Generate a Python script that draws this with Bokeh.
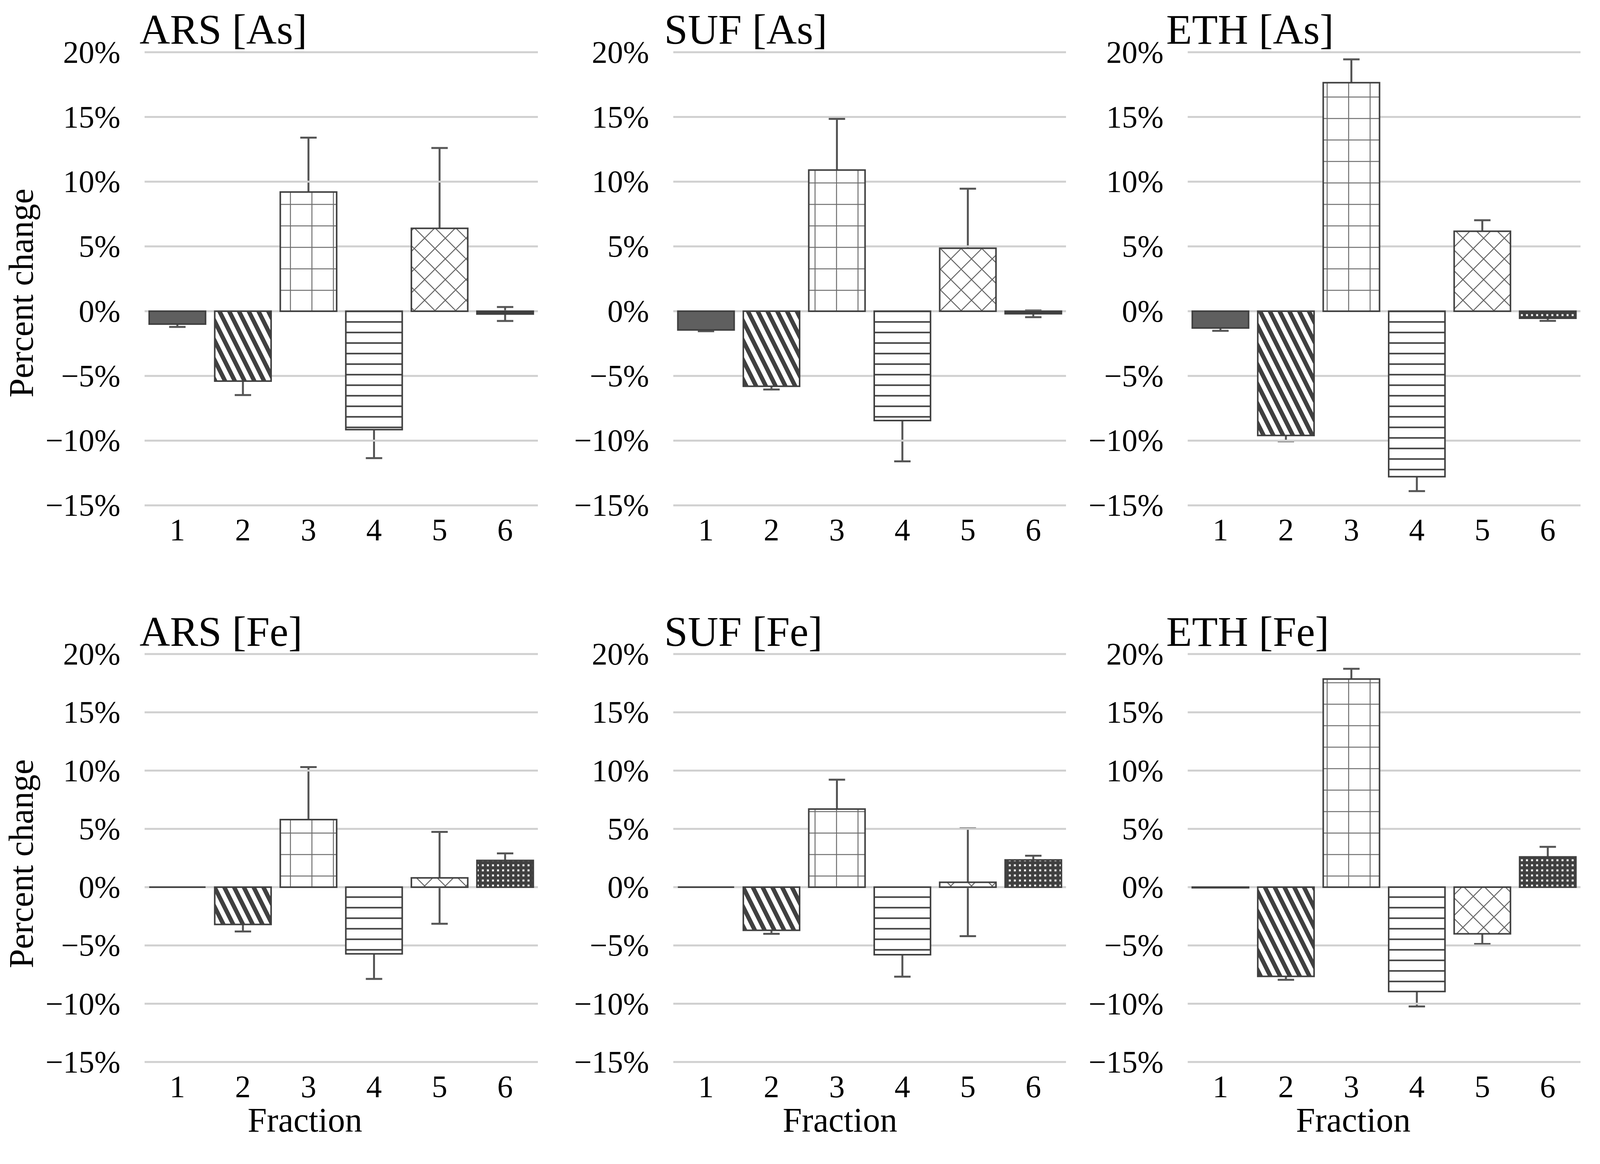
import math
from bokeh.plotting import figure
from bokeh.models import FixedTicker, Label, Whisker, TeeHead, ColumnDataSource, Range1d
from bokeh.layouts import row, column
from bokeh.embed import file_html
from bokeh.resources import INLINE

# ---------------- data ----------------
fractions = [1, 2, 3, 4, 5, 6]
y_ticks = [-15, -10, -5, 0, 5, 10, 15, 20]
y_tick_labels = ["\u221215%", "\u221210%", "\u22125%", "0%", "5%", "10%", "15%", "20%"]

titles = ["ARS [As]", "SUF [As]", "ETH [As]", "ARS [Fe]", "SUF [Fe]", "ETH [Fe]"]

ars_as = [-1.0, -5.4, 9.2, -9.15, 6.4, -0.22]
ars_as_err = [0.22, 1.08, 4.2, 2.2, 6.2, 0.54]

suf_as = [-1.45, -5.8, 10.9, -8.45, 4.86, -0.2]
suf_as_err = [0.1, 0.25, 3.95, 3.15, 4.6, 0.26]

eth_as = [-1.3, -9.6, 17.65, -12.78, 6.17, -0.55]
eth_as_err = [0.22, 0.45, 1.8, 1.12, 0.85, 0.2]

ars_fe = [0.0, -3.2, 5.8, -5.72, 0.8, 2.3]
ars_fe_err = [0.0, 0.6, 4.5, 2.15, 3.94, 0.6]

suf_fe = [0.0, -3.7, 6.7, -5.79, 0.42, 2.34]
suf_fe_err = [0.0, 0.3, 2.52, 1.89, 4.62, 0.36]

eth_fe = [-0.05, -7.65, 17.86, -8.95, -4.0, 2.6]
eth_fe_err = [0.0, 0.3, 0.88, 1.28, 0.87, 0.86]

values = [ars_as, suf_as, eth_as, ars_fe, suf_fe, eth_fe]
errors = [ars_as_err, suf_as_err, eth_as_err, ars_fe_err, suf_fe_err, eth_fe_err]

# ---------------- styles ----------------
FONT = "Liberation Serif"
DARK = "#404040"
ERR = "#555555"
GRID = "#d0d0d0"

fraction_styles = [
    dict(fill_color="#5f5f5f"),
    dict(fill_color="white", hatch_pattern="left_diagonal_line", hatch_color=DARK,
         hatch_weight=11, hatch_scale=50),
    dict(fill_color="white", hatch_pattern="cross", hatch_color="#4a4a4a",
         hatch_weight=2.5, hatch_scale=55, hatch_alpha=0.8),
    dict(fill_color="white", hatch_pattern="horizontal_line", hatch_color=DARK,
         hatch_weight=4, hatch_scale=27),
    dict(fill_color="white", hatch_pattern="diagonal_cross", hatch_color="#4a4a4a",
         hatch_weight=2.5, hatch_scale=53, hatch_alpha=0.85),
    dict(fill_color="white", hatch_pattern="cross", hatch_color=DARK,
         hatch_weight=8, hatch_scale=13),
]

# layout geometry in page pixels
PX_X = 170.0                       # pixels per fraction step
GROW_W, GROW_H = 19, 20            # extra size the page adds to each figure
# (intended width, x of plot-area left edge inside the figure)
col_geom = [(1472, 374.5), (1330, 274.0), (1342, 280.0)]
# (intended height, y of the 20% line inside the figure, pixels per percent)
row_geom = [(1520, 135.0, 33.6), (1443, 177.0, 30.27)]
title_xoff = [-13, -23, -55]
fraction_xoff = [-93, -76, -79]
FRACTION_YOFF = -149


def make_panel(idx):
    r, c = divmod(idx, 3)
    width, frame_dx = col_geom[c]
    height, y20_dy, ppy = row_geom[r]
    x0 = fractions[0] - 0.5
    x1 = fractions[-1] + 0.5
    xs_start = x0 - frame_dx / PX_X
    xs_end = xs_start + width / PX_X
    ys_end = y_ticks[-1] + y20_dy / ppy
    ys_start = ys_end - height / ppy

    p = figure(width=width - GROW_W, height=height - GROW_H,
               x_range=Range1d(xs_start, xs_end), y_range=Range1d(ys_start, ys_end),
               min_border=0, min_border_left=0, min_border_right=0,
               min_border_top=0, min_border_bottom=0,
               output_backend="svg", toolbar_location=None,
               background_fill_color="white", border_fill_color="white")
    p.outline_line_color = None
    p.xgrid.visible = False
    p.ygrid.visible = False

    p.yaxis.ticker = FixedTicker(ticks=y_ticks)
    p.yaxis.major_label_overrides = {t: lab for t, lab in zip(y_ticks, y_tick_labels)}
    p.xaxis.ticker = FixedTicker(ticks=fractions)
    p.yaxis.fixed_location = x0
    p.xaxis.fixed_location = y_ticks[0]
    for ax in (p.xaxis, p.yaxis):
        ax.axis_line_color = None
        ax.major_tick_line_color = None
        ax.minor_tick_line_color = None
        ax.major_tick_in = 0
        ax.major_tick_out = 0
        ax.major_label_text_font = FONT
        ax.major_label_text_font_size = "80px"
        ax.major_label_text_color = "black"
    p.yaxis.major_label_standoff = 62
    p.xaxis.major_label_standoff = 37
    if c == 0:
        p.yaxis.axis_label = "Percent change"
        p.yaxis.axis_label_text_font = FONT
        p.yaxis.axis_label_text_font_size = "88px"
        p.yaxis.axis_label_text_font_style = "normal"
        p.yaxis.axis_label_text_color = "black"
        p.yaxis.axis_label_standoff = 11

    # horizontal gridlines over the plot area only
    p.segment(x0=[x0] * len(y_ticks), x1=[x1] * len(y_ticks), y0=y_ticks, y1=y_ticks,
              line_color=GRID, line_width=5)

    vals = values[idx]
    errs = errors[idx]
    for f, v, st in zip(fractions, vals, fraction_styles):
        p.vbar(x=[f], top=[v], bottom=0, width=0.86,
               line_color=DARK, line_width=4, line_join="miter", **st)

    xs = [f for f, e in zip(fractions, errs) if e > 0]
    up = [v + e for v, e in zip(vals, errs) if e > 0]
    lo = [v - e for v, e in zip(vals, errs) if e > 0]
    src = ColumnDataSource(dict(x=xs, upper=up, lower=lo))
    w = Whisker(base="x", upper="upper", lower="lower", source=src, dimension="height",
                line_color=ERR, line_width=5,
                upper_head=TeeHead(size=42, line_color=ERR, line_width=5),
                lower_head=TeeHead(size=42, line_color=ERR, line_width=5))
    p.add_layout(w)

    p.add_layout(Label(x=x0, y=y_ticks[-1], x_offset=title_xoff[c], y_offset=58,
                       text=titles[idx], text_font=FONT, text_font_size="108px",
                       text_color="black", text_align="left", text_baseline="alphabetic"))
    if r == 1:
        p.add_layout(Label(x=(x0 + x1) / 2, y=y_ticks[0], x_offset=fraction_xoff[c],
                           y_offset=FRACTION_YOFF, text="Fraction", text_font=FONT,
                           text_font_size="88px", text_color="black",
                           text_align="center", text_baseline="middle"))
    return p


panels = [make_panel(i) for i in range(6)]
layout = column(row(*panels[:3]), row(*panels[3:]))
open("out.html", "w").write(file_html(layout, INLINE))
